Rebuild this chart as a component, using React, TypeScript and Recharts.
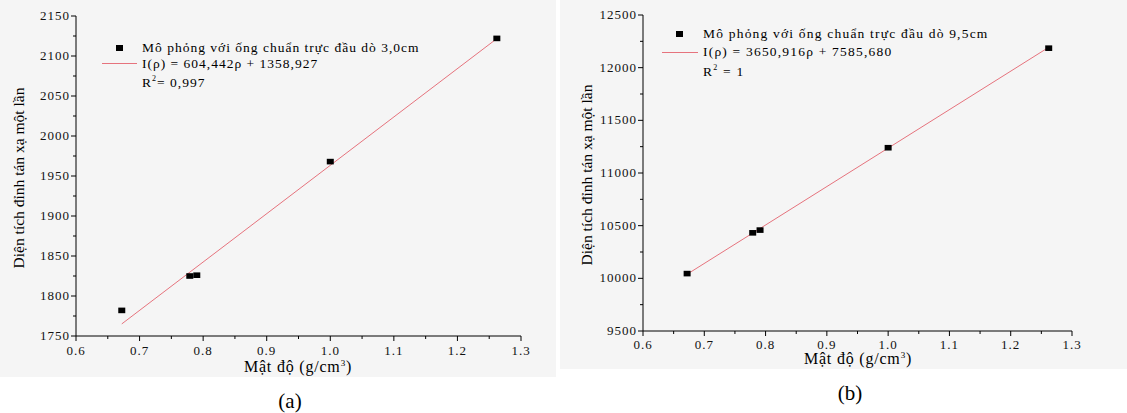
import React from "react";
import { ScatterChart, Scatter, XAxis, YAxis } from "recharts";

// Panel (a): probe distance 3.0 cm
const densityA = [0.672, 0.779, 0.79, 1.0, 1.262];
const areaA = [1782, 1825, 1826, 1968, 2122];
const fitXA = [0.672, 1.262];
const fitYA = [1765.1, 2121.7];
const yTicksA = [1750, 1775, 1800, 1825, 1850, 1875, 1900, 1925, 1950, 1975, 2000, 2025, 2050, 2075, 2100, 2125, 2150];

// Panel (b): probe distance 9.5 cm
const densityB = [0.672, 0.779, 0.791, 1.0, 1.262];
const areaB = [10045, 10432, 10458, 11240, 12185];
const fitXB = [0.672, 1.262];
const fitYB = [10039.1, 12193.1];
const yTicksB = [9500, 9750, 10000, 10250, 10500, 10750, 11000, 11250, 11500, 11750, 12000, 12250, 12500];

const xTicks = [0.6, 0.65, 0.7, 0.75, 0.8, 0.85, 0.9, 0.95, 1.0, 1.05, 1.1, 1.15, 1.2, 1.25, 1.3];
const xLabels = ["0.6", "0.7", "0.8", "0.9", "1.0", "1.1", "1.2", "1.3"];

const SERIF = "'Liberation Serif', 'DejaVu Serif', serif";
const FIT_COLOR = "#e6737d";

const zip = (xs: number[], ys: number[]) => xs.map((x, i) => ({ x, y: ys[i] }));

const isMajorX = (v: number) => Math.abs(v * 10 - Math.round(v * 10)) < 1e-6;

function Square(props: any) {
  const { cx, cy } = props;
  return <rect x={cx - 3.5} y={cy - 2.8} width={7} height={5.6} fill="#000" />;
}

const NoShape = () => <g />;

interface PanelProps {
  left: number;
  width: number;
  height: number;
  margin: { top: number; right: number; bottom: number; left: number };
  yAxisWidth: number;
  points: { x: number; y: number }[];
  fit: { x: number; y: number }[];
  yTicks: number[];
  yMajor: number;
  labelDy: number;
  bg: number;
}

function Panel(p: PanelProps) {
  const [y0, y1] = [p.yTicks[0], p.yTicks[p.yTicks.length - 1]];

  const bottomTick = ({ x, y, payload }: any) => {
    const major = isMajorX(payload.value);
    return (
      <g>
        <line x1={x} x2={x} y1={y} y2={y + (major ? 5 : 3)} stroke="#000" />
        {major && (
          <text x={x} y={y + p.labelDy} textAnchor="middle" fontSize={13} letterSpacing={1} fill="#111" fontFamily={SERIF}>
            {xLabels.find((l) => Math.abs(Number(l) - payload.value) < 1e-6)}
          </text>
        )}
      </g>
    );
  };
  const topTick = ({ x, y, payload }: any) => {
    const major = isMajorX(payload.value);
    return <line x1={x} x2={x} y1={y} y2={y + (major ? 5 : 3)} stroke="#000" />;
  };
  const leftTick = ({ x, y, payload }: any) => {
    const major = payload.value % p.yMajor === 0;
    return (
      <g>
        <line x1={x - (major ? 5 : 3)} x2={x} y1={y} y2={y} stroke="#000" />
        {major && (
          <text x={x - 6} y={y + 4} textAnchor="end" fontSize={13} letterSpacing={1} fill="#111" fontFamily={SERIF}>
            {payload.value}
          </text>
        )}
      </g>
    );
  };
  const rightTick = ({ x, y, payload }: any) => {
    const major = payload.value % p.yMajor === 0;
    return <line x1={x - (major ? 5 : 3)} x2={x} y1={y} y2={y} stroke="#000" />;
  };

  return (
    <div style={{ position: "absolute", left: p.left, top: 0, width: p.width, height: p.bg, background: "#f5f5f5" }}>
      <ScatterChart width={p.width} height={p.height} margin={p.margin}>
        <XAxis dataKey="x" type="number" domain={[0.6, 1.3]} ticks={xTicks} interval={0} height={30}
          tickSize={0} tickMargin={0} tickLine={false} axisLine={{ stroke: "#000" }} tick={bottomTick} />
        <XAxis xAxisId="top" orientation="top" dataKey="x" type="number" domain={[0.6, 1.3]} ticks={xTicks} interval={0}
          height={0} tickSize={0} tickMargin={0} tickLine={false} axisLine={{ stroke: "#000" }} tick={topTick} />
        <YAxis dataKey="y" type="number" domain={[y0, y1]} ticks={p.yTicks} interval={0} width={p.yAxisWidth}
          tickSize={0} tickMargin={0} tickLine={false} axisLine={{ stroke: "#000" }} tick={leftTick} />
        <YAxis yAxisId="right" orientation="right" dataKey="y" type="number" domain={[y0, y1]} ticks={p.yTicks} interval={0}
          width={0} tickSize={0} tickMargin={0} tickLine={false} axisLine={{ stroke: "#000" }} tick={rightTick} />
        <Scatter data={p.fit} fill={FIT_COLOR} line={{ stroke: FIT_COLOR, strokeWidth: 1 }} shape={NoShape} isAnimationActive={false} />
        <Scatter data={p.points} fill="#000" shape={Square} isAnimationActive={false} />
      </ScatterChart>
    </div>
  );
}

const text: React.CSSProperties = { position: "absolute", fontFamily: SERIF, color: "#000", whiteSpace: "nowrap", lineHeight: 1 };

export default function App() {
  return (
    <div style={{ position: "absolute", left: 0, top: 0, width: 1127, height: 413, background: "#fff", overflow: "hidden" }}>
      <Panel left={0} width={556} height={380} bg={377} margin={{ top: 16, right: 35, bottom: 14, left: 0 }} yAxisWidth={76}
        points={zip(densityA, areaA)} fit={zip(fitXA, fitYA)} yTicks={yTicksA} yMajor={50} labelDy={19} />
      <Panel left={560} width={567} height={373} bg={369} margin={{ top: 15, right: 55, bottom: 12, left: 0 }} yAxisWidth={83}
        points={zip(densityB, areaB)} fit={zip(fitXB, fitYB)} yTicks={yTicksB} yMajor={500} labelDy={18} />

      {/* legend (a) */}
      <div style={{ position: "absolute", left: 116, top: 45, width: 7, height: 6, background: "#000" }} />
      <div style={{ position: "absolute", left: 102, top: 63, width: 35, height: 1, background: FIT_COLOR }} />
      <div style={{ ...text, left: 142, top: 41, fontSize: 13.5, letterSpacing: 1 }}>Mô phỏng với ống chuẩn trực đầu dò 3,0cm</div>
      <div style={{ ...text, left: 142, top: 57, fontSize: 13.5, letterSpacing: 1 }}>I(ρ) = 604,442ρ + 1358,927</div>
      <div style={{ ...text, left: 142, top: 75, fontSize: 13.5, letterSpacing: 1 }}>R<sup style={{ fontSize: 8 }}>2</sup>= 0,997</div>

      {/* legend (b) */}
      <div style={{ position: "absolute", left: 676, top: 31, width: 7, height: 6, background: "#000" }} />
      <div style={{ position: "absolute", left: 662, top: 52, width: 36, height: 1, background: FIT_COLOR }} />
      <div style={{ ...text, left: 703, top: 27, fontSize: 13.5, letterSpacing: 1.2 }}>Mô phỏng với ống chuẩn trực đầu dò 9,5cm</div>
      <div style={{ ...text, left: 703, top: 45, fontSize: 13.5, letterSpacing: 1.2 }}>I(ρ) = 3650,916ρ + 7585,680</div>
      <div style={{ ...text, left: 703, top: 64, fontSize: 13.5, letterSpacing: 1.2 }}>R<sup style={{ fontSize: 8 }}>2</sup> = 1</div>

      {/* axis titles */}
      <div style={{ ...text, left: 298, top: 367, fontSize: 16, letterSpacing: 0.8, transform: "translate(-50%, -50%)" }}>Mật độ (g/cm<sup style={{ fontSize: 9 }}>3</sup>)</div>
      <div style={{ ...text, left: 858, top: 359, fontSize: 16, letterSpacing: 0.8, transform: "translate(-50%, -50%)" }}>Mật độ (g/cm<sup style={{ fontSize: 9 }}>3</sup>)</div>
      <div style={{ ...text, left: 19, top: 178, fontSize: 15.5, transform: "translate(-50%, -50%) rotate(-90deg)" }}>Diện tích đỉnh tán xạ một lần</div>
      <div style={{ ...text, left: 587, top: 175, fontSize: 15.5, transform: "translate(-50%, -50%) rotate(-90deg)" }}>Diện tích đỉnh tán xạ một lần</div>

      {/* captions */}
      <div style={{ ...text, left: 290, top: 401, fontSize: 21, transform: "translate(-50%, -50%)" }}>(a)</div>
      <div style={{ ...text, left: 850, top: 393, fontSize: 21, transform: "translate(-50%, -50%)" }}>(b)</div>
    </div>
  );
}
